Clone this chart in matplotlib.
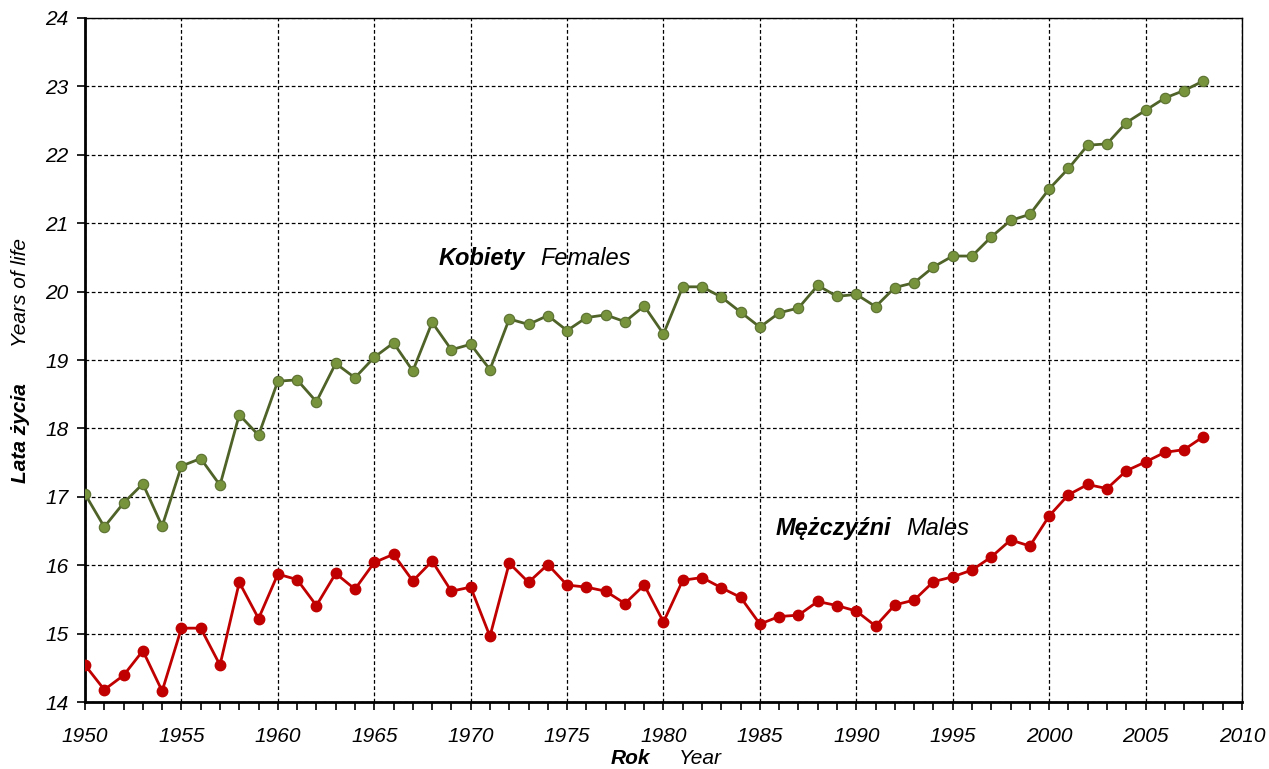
import matplotlib.pyplot as plt
from matplotlib.ticker import MultipleLocator

plt.rcParams['font.family'] = ['Liberation Sans', 'DejaVu Sans']

years = list(range(1950, 2009))

# expectation of life at age 60
females = [17.04, 16.56, 16.91, 17.19, 16.57, 17.45, 17.56, 17.17, 18.20, 17.90,
           18.69, 18.71, 18.39, 18.95, 18.74, 19.04, 19.25, 18.84, 19.55, 19.15,
           19.23, 18.86, 19.60, 19.52, 19.65, 19.43, 19.62, 19.66, 19.56, 19.79,
           19.38, 20.07, 20.07, 19.92, 19.70, 19.48, 19.69, 19.76, 20.09, 19.93,
           19.96, 19.78, 20.06, 20.13, 20.36, 20.52, 20.52, 20.80, 21.04, 21.13,
           21.50, 21.80, 22.14, 22.16, 22.47, 22.65, 22.83, 22.94, 23.08]
males = [14.54, 14.18, 14.39, 14.75, 14.16, 15.08, 15.08, 14.54, 15.75, 15.22,
         15.87, 15.79, 15.41, 15.88, 15.65, 16.04, 16.16, 15.77, 16.06, 15.62,
         15.68, 14.96, 16.03, 15.75, 16.01, 15.71, 15.68, 15.62, 15.44, 15.71,
         15.17, 15.78, 15.82, 15.67, 15.53, 15.14, 15.25, 15.27, 15.47, 15.41,
         15.33, 15.11, 15.42, 15.49, 15.76, 15.83, 15.93, 16.12, 16.37, 16.28,
         16.72, 17.03, 17.18, 17.12, 17.38, 17.51, 17.65, 17.69, 17.88]

fig = plt.figure(figsize=(12.69, 7.69), dpi=100)
ax = fig.add_axes([0.067, 0.0871, 0.9117, 0.8895])

ax.plot(years, females, color='#4F6228', lw=2, marker='o', ms=7.5,
        mfc='#77933C', mec='#5A7030', mew=0.8, zorder=3)
ax.plot(years, males, color='#C00000', lw=2, marker='o', ms=7.5,
        mfc='#C00000', mec='#C00000', zorder=3)

ax.set_xlim(1950, 2010)
ax.set_ylim(14, 24)
ax.xaxis.set_major_locator(MultipleLocator(5))
ax.xaxis.set_minor_locator(MultipleLocator(1))
ax.yaxis.set_major_locator(MultipleLocator(1))
ax.grid(True, which='major', color='black', ls=(0, (3, 2)), lw=0.9)

ax.tick_params(axis='both', which='both', direction='out', length=6, width=1.2,
               labelsize=15)
ax.tick_params(axis='x', pad=12)
ax.tick_params(axis='y', pad=6)
for lab in ax.get_xticklabels() + ax.get_yticklabels():
    lab.set_fontstyle('italic')

for s in ['top', 'right']:
    ax.spines[s].set_linewidth(1)
for s in ['left', 'bottom']:
    ax.spines[s].set_linewidth(2)

# series names
ax.text(1968.36, 20.49, 'Kobiety', fontsize=17, fontweight='bold',
        fontstyle='italic', va='center')
ax.text(1973.6, 20.49, 'Females', fontsize=17, fontstyle='italic', va='center')
ax.text(1985.79, 16.54, 'Mężczyźni', fontsize=17, fontweight='bold',
        fontstyle='italic', va='center')
ax.text(1992.58, 16.54, 'Males', fontsize=17, fontstyle='italic', va='center')

# axis titles
fig.text(0.4968, 0.0143, 'Rok', fontsize=15, fontweight='bold',
         fontstyle='italic', ha='center', va='center')
fig.text(0.5516, 0.0143, 'Year', fontsize=15, fontstyle='italic',
         ha='center', va='center')
fig.text(0.0165, 0.437, 'Lata życia', fontsize=15, fontweight='bold',
         fontstyle='italic', rotation=90, ha='center', va='center')
fig.text(0.0165, 0.620, 'Years of life', fontsize=15, fontstyle='italic',
         rotation=90, ha='center', va='center')

fig.savefig('out.png', dpi=100)
